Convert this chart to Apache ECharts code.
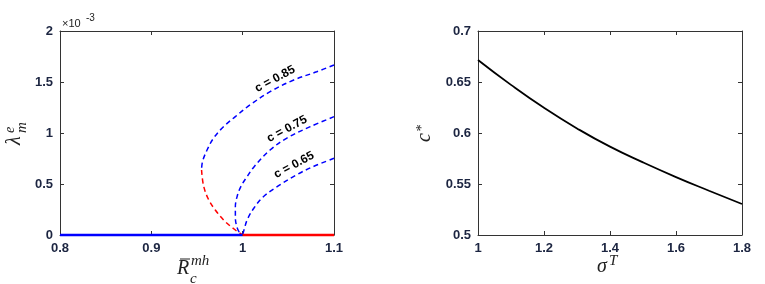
<!DOCTYPE html>
<html><head><meta charset="utf-8">
<script src="https://cdn.jsdelivr.net/npm/echarts@6/dist/echarts.min.js"></script>
<style>html,body{margin:0;padding:0;background:#fff}#c{width:765px;height:284px}</style>
</head><body><div id="c"></div>
<script>
// ---- left panel data (lambda in units of 1e-3) ----
const stableBranch = [[0.8, 0], [1.0, 0]];
const unstableBranch = [[1.0, 0], [1.1, 0]];
const c085Blue = [[1.1,1.667],[1.081,1.6],[1.056,1.52],[1.03,1.405],[1.008,1.275],[0.992,1.16],[0.979,1.062],[0.968,0.948],[0.961,0.833],[0.956,0.719],[0.955,0.637]];
const c085Red = [[0.955,0.637],[0.957,0.49],[0.962,0.36],[0.970,0.245],[0.981,0.13],[0.992,0.049],[0.999,0.005]];
const c075Blue = [[1.1,1.16],[1.074,1.062],[1.048,0.948],[1.03,0.833],[1.013,0.675],[1.005,0.575],[0.998,0.475],[0.994,0.38],[0.992,0.28],[0.992,0.17],[0.994,0.07],[0.998,0.0]];
const c065Blue = [[1.1,0.752],[1.077,0.67],[1.059,0.59],[1.037,0.47],[1.022,0.37],[1.012,0.26],[1.005,0.15],[1.0015,0.05],[1.0,0.0]];
const curveLabels = ['c = 0.85', 'c = 0.75', 'c = 0.65'];
// ---- right panel data ----
const sigmaT = [1.0, 1.1, 1.2, 1.3, 1.4, 1.5, 1.6, 1.7, 1.8];
const cStar = [0.6716, 0.6472, 0.6247, 0.6045, 0.5866, 0.5712, 0.5568, 0.5434, 0.5304];

const chart = echarts.init(document.getElementById('c'), null, {renderer: 'canvas'});
const tickFont = {color: '#1c2541', fontWeight: 'bold', fontSize: 13, fontFamily: '"Liberation Sans", Arial, sans-serif'};
const lineCol = '#333';
function mkAxis(gridIndex, pos, min, max, interval, fmt, showLabel) {
  return {
    type: 'value', gridIndex, position: pos, min, max, interval,
    axisLine: {show: true, onZero: false, lineStyle: {color: lineCol, width: 1}},
    axisTick: {show: true, inside: true, length: 4, lineStyle: {color: lineCol}},
    splitLine: {show: false},
    axisLabel: Object.assign({show: showLabel, margin: 7, showMinLabel: true, showMaxLabel: true,
      formatter: v => String(+v.toFixed(fmt))}, tickFont)
  };
}
const dashed = (col) => ({color: col, width: 1.5, type: [5, 3.5]});
const serif = '"Liberation Serif", "DejaVu Serif", serif';
function txt(text, x, y, size, opts) {
  return Object.assign({type: 'text', x, y, style: {text, font: 'italic ' + size + 'px ' + serif, fill: '#222', textAlign: 'left', textVerticalAlign: 'middle'}}, opts || {});
}
const deg = Math.PI / 180;
const labelFont = 'bold 12px "Liberation Sans", Arial, sans-serif';
const option = {
  animation: false,
  backgroundColor: '#fff',
  grid: [
    {left: 60, top: 31, width: 274, height: 204},
    {left: 478, top: 31, width: 264, height: 204}
  ],
  xAxis: [
    mkAxis(0, 'bottom', 0.8, 1.1, 0.1, 1, true),
    mkAxis(0, 'top', 0.8, 1.1, 0.1, 1, false),
    mkAxis(1, 'bottom', 1, 1.8, 0.2, 1, true),
    mkAxis(1, 'top', 1, 1.8, 0.2, 1, false)
  ],
  yAxis: [
    mkAxis(0, 'left', 0, 2, 0.5, 1, true),
    mkAxis(0, 'right', 0, 2, 0.5, 1, false),
    mkAxis(1, 'left', 0.5, 0.7, 0.05, 2, true),
    mkAxis(1, 'right', 0.5, 0.7, 0.05, 2, false)
  ],
  series: [
    {type: 'line', xAxisIndex: 0, yAxisIndex: 0, data: stableBranch, showSymbol: false, clip: false, z: 5, lineStyle: {color: '#0000ff', width: 2.5}},
    {type: 'line', xAxisIndex: 0, yAxisIndex: 0, data: unstableBranch, showSymbol: false, clip: false, z: 5, lineStyle: {color: '#ff0000', width: 2.5}},
    {type: 'line', xAxisIndex: 0, yAxisIndex: 0, data: c085Blue, showSymbol: false, smooth: 0.35, lineStyle: dashed('#0000ff')},
    {type: 'line', xAxisIndex: 0, yAxisIndex: 0, data: c085Red, showSymbol: false, smooth: 0.35, lineStyle: dashed('#ff0000')},
    {type: 'line', xAxisIndex: 0, yAxisIndex: 0, data: c075Blue, showSymbol: false, smooth: 0.35, lineStyle: dashed('#0000ff')},
    {type: 'line', xAxisIndex: 0, yAxisIndex: 0, data: c065Blue, showSymbol: false, smooth: 0.35, lineStyle: dashed('#0000ff')},
    {type: 'line', xAxisIndex: 2, yAxisIndex: 2, data: sigmaT.map((s, i) => [s, cStar[i]]), showSymbol: false, smooth: 0.5, lineStyle: {color: '#000', width: 1.8}}
  ],
  graphic: [
    {type: 'text', x: 275, y: 79, rotation: 28 * deg, style: {text: curveLabels[0], font: labelFont, fill: '#000', textAlign: 'center', textVerticalAlign: 'middle'}},
    {type: 'text', x: 287, y: 129, rotation: 28 * deg, style: {text: curveLabels[1], font: labelFont, fill: '#000', textAlign: 'center', textVerticalAlign: 'middle'}},
    {type: 'text', x: 294, y: 165, rotation: 28 * deg, style: {text: curveLabels[2], font: labelFont, fill: '#000', textAlign: 'center', textVerticalAlign: 'middle'}},
    {type: 'text', x: 62, y: 23.5, style: {text: '\u00d710', font: '11px "Liberation Sans", Arial, sans-serif', fill: '#222', textAlign: 'left', textVerticalAlign: 'middle'}},
    {type: 'text', x: 86, y: 18, style: {text: '-3', font: '10px "Liberation Sans", Arial, sans-serif', fill: '#222', textAlign: 'left', textVerticalAlign: 'middle'}},
    txt('R', 177, 268.5, 20),
    {type: 'line', shape: {x1: 180, y1: 259, x2: 190, y2: 259}, style: {stroke: '#222', lineWidth: 1}},
    txt('mh', 191, 261, 15),
    txt('c', 190, 279, 15),
    txt('\u03c3', 597, 267, 20),
    txt('T', 609, 261, 15),
    {type: 'group', x: 22, y: 145, rotation: 90 * deg, children: [
      txt('\u03bb', 0, -7, 20),
      txt('e', 12, -12, 14),
      txt('m', 12, 0.5, 15)
    ]},
    {type: 'group', x: 432, y: 142, rotation: 90 * deg, children: [
      txt('c', 0, -7, 20),
      txt('*', 10, -10, 14)
    ]}
  ]
};
chart.setOption(option);
</script>
</body></html>
